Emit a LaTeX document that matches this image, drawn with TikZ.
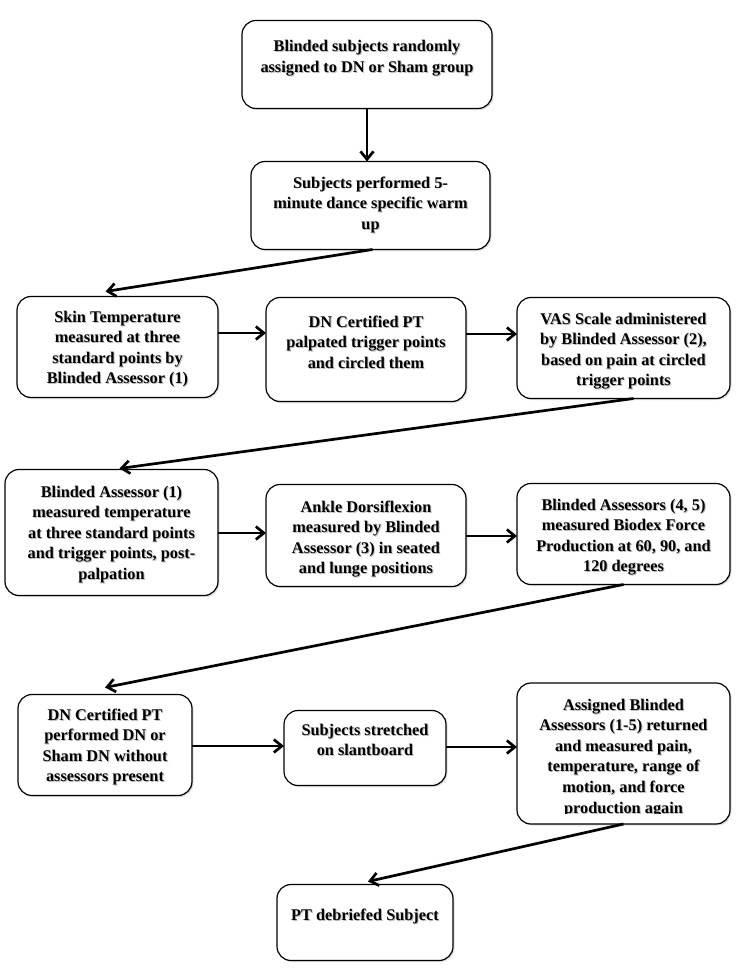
\documentclass[tikz,border=0pt]{standalone}
\usepackage{fontspec}
\setmainfont{Liberation Serif}
\usetikzlibrary{arrows.meta,shadows}
\newcommand{\bxp}[4]{\parbox[c][#2pt][t]{#1pt}{\centering\rule{0pt}{#3pt}#4\par}}
\newcommand{\bxt}[4]{\leavevmode\rlap{\hspace{1pt}\raisebox{-1pt}{\textcolor{black!25}{\bxp{#1}{#2}{#3}{#4}}}}\bxp{#1}{#2}{#3}{#4}}
\tikzset{
  bxfont/.style={font=\bfseries\fontsize{16.3}{20.6}\selectfont},
  bx/.style={draw, line width=1.2pt, rounded corners=14pt, fill=white,
    inner sep=0pt, outer sep=0pt, bxfont,
    drop shadow={shadow xshift=1.5pt, shadow yshift=-1.5pt, opacity=0.25}},
  arr/.style={line width=2.7pt, -{Straight Barb[length=8pt,width=13pt]}}
}
\begin{document}
\begin{tikzpicture}[x=1pt, y=-1pt]
\useasboundingbox[fill=white] (0,0) rectangle (738,968);

\node[bx] (b1) at (367,64.5) {\bxt{250}{87}{31.5}{Blinded subjects randomly\\assigned to DN or Sham group}};
\node[bx] (b2) at (370.5,205.5) {\bxt{239}{87}{26.5}{Subjects performed 5-\\minute dance specific warm\\up}};

\node[bx] (b3) at (117.5,347) {\bxt{201}{100}{25.5}{Skin Temperature\\measured at three\\standard points by\\Blinded Assessor (1)}};
\node[bx] (b4) at (366,349.5) {\bxt{200}{103}{29.5}{DN Certified PT\\palpated trigger points\\and circled them}};
\node[bx] (b5) at (623.5,348) {\bxt{213}{100}{26.5}{VAS Scale administered\\by Blinded Assessor (2),\\based on pain at circled\\trigger points}};

\node[bx] (b6) at (111.5,532.5) {\bxt{213}{125}{27.5}{Blinded Assessor (1)\\measured temperature\\at three standard points\\and trigger points, post-\\palpation}};
\node[bx] (b7) at (366,535.5) {\bxt{200}{101}{27.5}{Ankle Dorsiflexion\\measured by Blinded\\Assessor (3) in seated\\and lunge positions}};
\node[bx] (b8) at (623.5,534) {\bxt{213}{100}{26.5}{Blinded Assessors (4, 5)\\measured Biodex Force\\Production at 60, 90, and\\120 degrees}};

\node[bx] (b9) at (105,745) {\bxt{174}{100}{25.5}{DN Certified PT\\performed DN or\\Sham DN without\\assessors present}};
\node[bx] (b10) at (365,748) {\bxt{162}{74}{24.5}{Subjects stretched\\on slantboard}};
\node[bx, minimum width=213pt, minimum height=141pt,
  path picture={
    \clip ([yshift=11pt]path picture bounding box.south west) rectangle (path picture bounding box.north east);
    \node[inner sep=0pt, bxfont] at (path picture bounding box.center)
      {\bxt{213}{141}{27.5}{Assigned Blinded\\Assessors (1-5) returned\\and measured pain,\\temperature, range of\\motion, and force\\production again}};
  }] (b11) at (623.5,753.5) {};

\node[bx] (b12) at (365,922.5) {\bxt{176}{75}{35.5}{PT debriefed Subject}};

\draw[arr] (b1.south) -- (b1.south |- b2.north);
\draw[arr] ([xshift=2pt]b2.south) -- ([xshift=-12pt,yshift=5pt]b3.north);
\draw[arr] (b3.east |- 0,333) -- (b4.west |- 0,333);
\draw[arr] (b4.east |- 0,334) -- (b5.west |- 0,334);
\draw[arr] ([xshift=10pt]b5.south) -- ([xshift=8pt,yshift=1pt]b6.north);
\draw[arr] (b6.east |- 0,533) -- (b7.west |- 0,533);
\draw[arr] (b7.east |- 0,536) -- (b8.west |- 0,536);
\draw[arr] (b8.south) -- ([yshift=7pt]b9.north);
\draw[arr] (b9.east |- 0,746) -- (b10.west |- 0,746);
\draw[arr] (b10.east |- 0,747) -- (b11.west |- 0,747);
\draw[arr] (b11.south) -- ([xshift=3pt,yshift=3pt]b12.north);
\end{tikzpicture}
\end{document}
